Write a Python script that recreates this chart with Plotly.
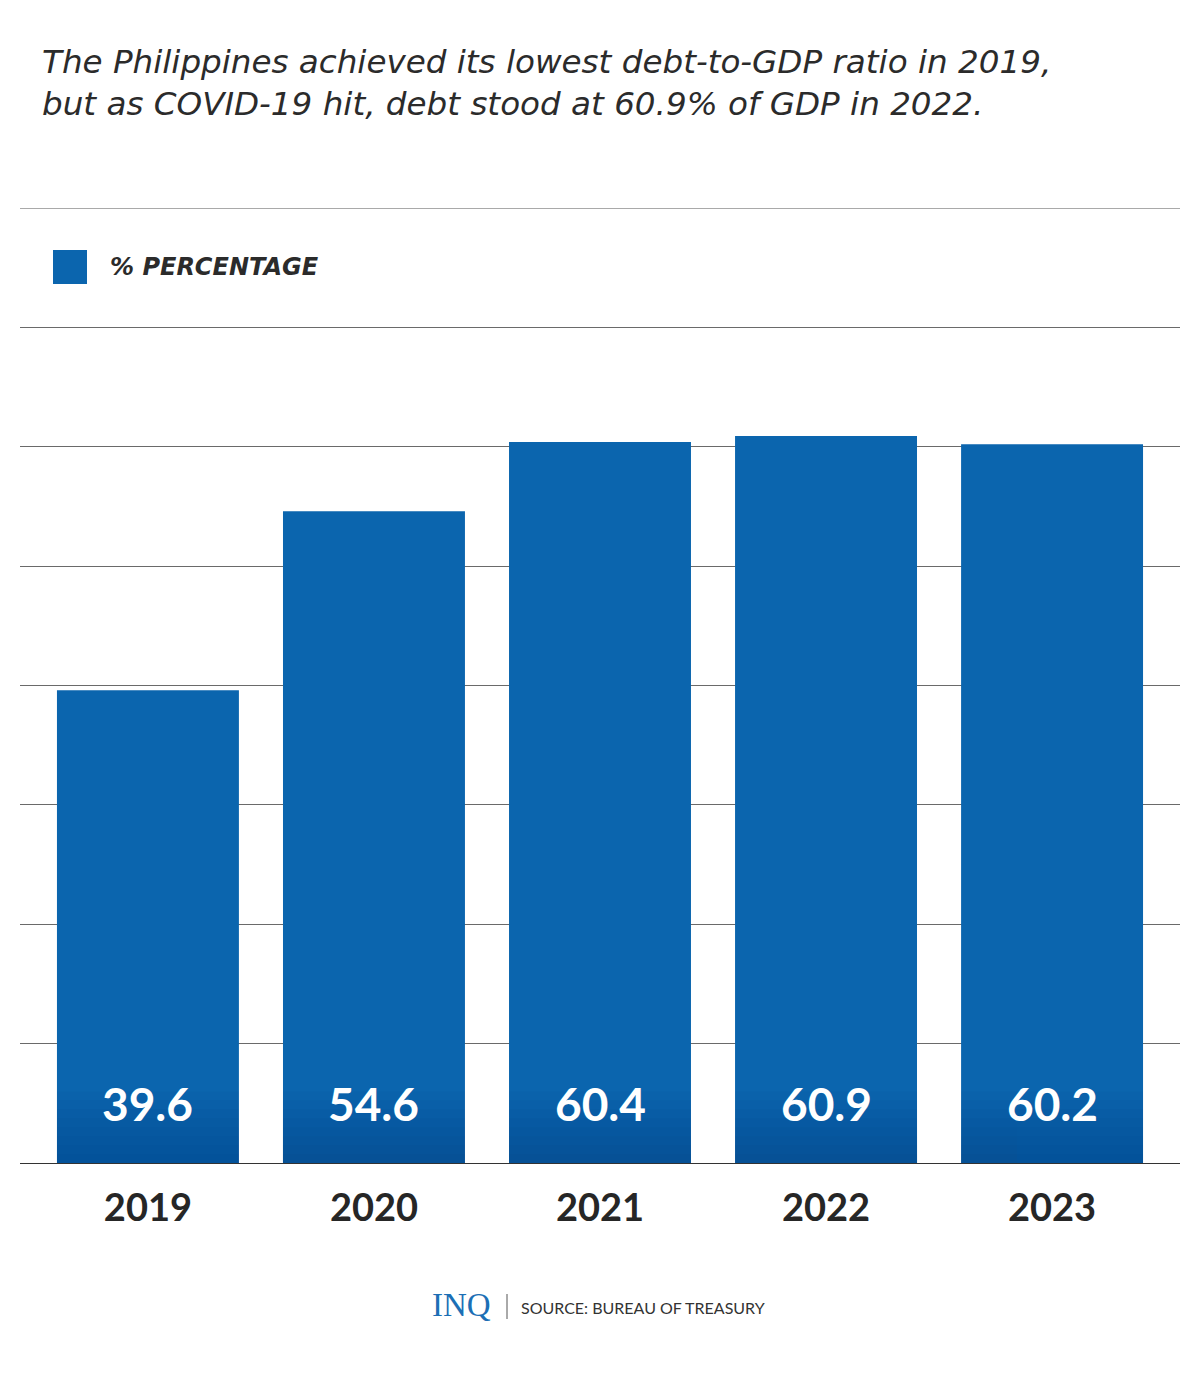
import plotly.graph_objects as go

years = ["2019", "2020", "2021", "2022", "2023"]
debt_pct = [39.6, 54.6, 60.4, 60.9, 60.2]
value_labels = ["39.6", "54.6", "60.4", "60.9", "60.2"]
y_ticks = [0, 10, 20, 30, 40, 50, 60, 70, 80]

title_lines = ["The Philippines achieved its lowest debt-to-GDP ratio in 2019,",
               "but as COVID-19 hit, debt stood at 60.9% of GDP in 2022."]
legend_label = "% PERCENTAGE"
source_text = "SOURCE: BUREAU OF TREASURY"

BAR = "#0b65ae"
DARK = "#06306e"
W, H = 1200, 1385
OFF = 8  # page body margin
PX_L, PX_R, PX_T, PX_B = 20, 1180, 208, 1163
L = PX_L - OFF
R = W - (PX_R - OFF)
T = PX_T - OFF
B = H - (PX_B - OFF)
plot_w = PX_R - PX_L
plot_h = PX_B - PX_T

def px_x(p):
    return (p - PX_L) / plot_w

def px_y(p):
    return (PX_B - p) / plot_h

fig = go.Figure()
fig.add_trace(go.Bar(x=list(range(len(years))), y=debt_pct, width=0.805,
                     marker=dict(color=BAR, line=dict(width=0)),
                     showlegend=False, hoverinfo="x+y"))
# subtle darkening toward the base of each bar
for k in range(1, 9):
    fig.add_trace(go.Bar(x=list(range(len(years))), y=[k * 0.75] * len(years), width=0.805,
                         marker=dict(color=DARK, line=dict(width=0)), opacity=0.045,
                         showlegend=False, hoverinfo="skip"))

for i, lab in enumerate(value_labels):
    fig.add_annotation(x=i, y=4.95, text=f"<b>{lab}</b>", showarrow=False,
                       font=dict(family="Lato", size=46, color="white"),
                       xanchor="center", yanchor="middle")

fig.update_layout(
    width=W, height=H, barmode="overlay",
    margin=dict(l=L, r=R, t=T, b=B),
    paper_bgcolor="white", plot_bgcolor="white",
    xaxis=dict(range=[-0.566, 4.566], tickmode="array", tickvals=list(range(len(years))),
               ticktext=[f"<b>{y}</b>" for y in years], showgrid=False, zeroline=False,
               showline=False, ticks="", ticklabelstandoff=19,
               tickfont=dict(family="Lato", size=38, color="#262626", weight=900),
               fixedrange=True),
    yaxis=dict(range=[0, 80], tickvals=y_ticks, showticklabels=False, showgrid=True,
               gridcolor="#6a6a6a", gridwidth=1, zeroline=True, zerolinecolor="#333333",
               zerolinewidth=1.2, showline=False, fixedrange=True),
    font=dict(family="Lato"),
)
# top gridline (plotly omits gridlines on the plot edge)
fig.add_shape(type="line", xref="paper", yref="y", x0=0, x1=1, y0=y_ticks[-1], y1=y_ticks[-1],
              line=dict(color="#555555", width=1), layer="below")

# title
for j, line in enumerate(title_lines):
    fig.add_annotation(xref="paper", yref="paper", x=px_x(40), y=px_y(62 + j * 42),
                       text=f"<i>{line}</i>", showarrow=False, xanchor="left", yanchor="middle",
                       font=dict(family="DejaVu Sans", size=32.6, color="#2b2b2b"))

# legend
fig.add_shape(type="rect", xref="paper", yref="paper", x0=px_x(53), x1=px_x(87),
              y0=px_y(284), y1=px_y(250), fillcolor=BAR, line=dict(width=0))
fig.add_annotation(xref="paper", yref="paper", x=px_x(108), y=px_y(267),
                   text=f"<b><i>{legend_label}</i></b>", showarrow=False, xanchor="left",
                   yanchor="middle", font=dict(family="DejaVu Sans", size=24, color="#2b2b2b"))

# footer
fig.add_annotation(xref="paper", yref="paper", x=px_x(430), y=px_y(1305), text="INQ",
                   showarrow=False, xanchor="left", yanchor="middle",
                   font=dict(family="Liberation Serif", size=33, color="#1c6fb5"))
fig.add_shape(type="line", xref="paper", yref="paper", x0=px_x(507), x1=px_x(507),
              y0=px_y(1294), y1=px_y(1319), line=dict(color="#555555", width=1))
fig.add_annotation(xref="paper", yref="paper", x=px_x(519), y=px_y(1307), text=source_text,
                   showarrow=False, xanchor="left", yanchor="middle",
                   font=dict(family="Lato", size=16, color="#333333"))

fig.write_html("out.html")
